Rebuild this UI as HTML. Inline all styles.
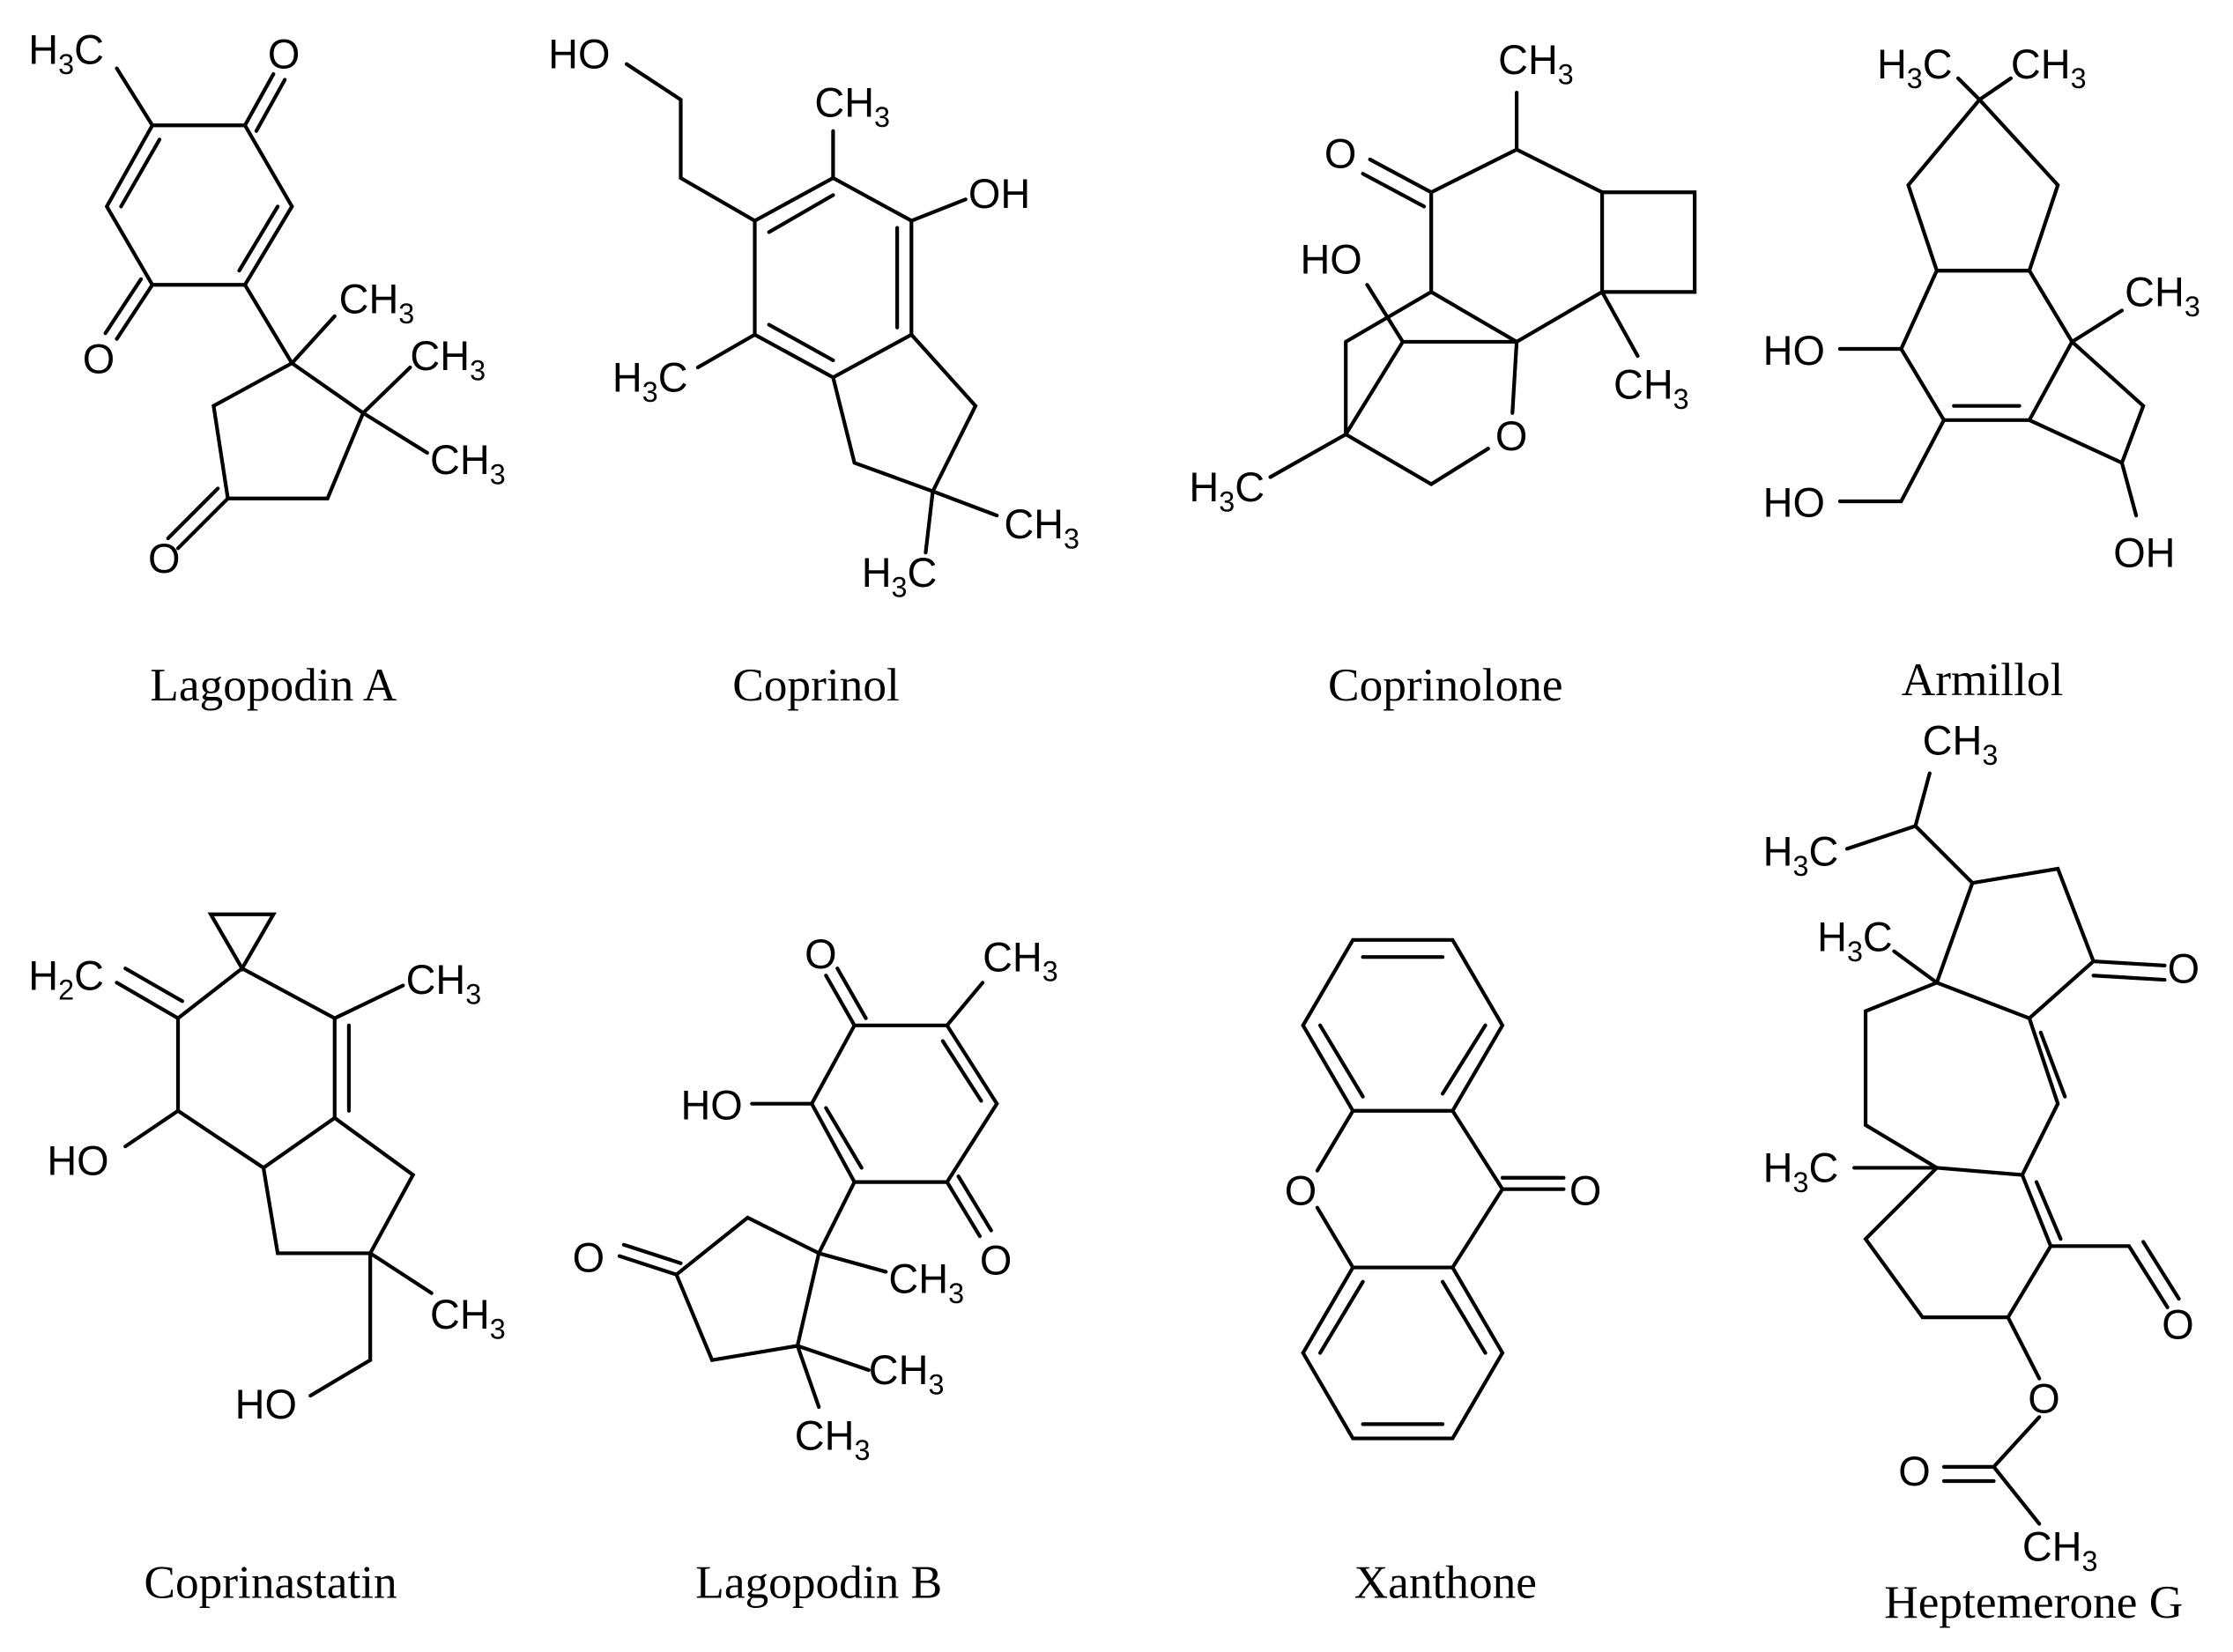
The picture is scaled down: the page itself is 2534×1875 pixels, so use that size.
<!DOCTYPE html>
<html><head><meta charset="utf-8"><style>html,body{margin:0;padding:0;background:#fff}svg{display:block}</style></head>
<body>
<svg width="2534" height="1875" viewBox="0 0 1568 1160" preserveAspectRatio="none" xmlns="http://www.w3.org/2000/svg">
<g stroke="#000" stroke-width="2.6" fill="none" stroke-linecap="round">
<!-- Lagopodin A -->
<path d="M107,88 L172,88 L205,145 L172,200 L107,200 L75,145 Z"/>
<path d="M85,145 L112,98 M195,145 L168,190"/>
<path d="M107,88 L82,48 M172,88 L192,52 M180,92 L200,56 M107,200 L82,238 M99,196 L74,234"/>
<path d="M172,200 L205,255 M205,255 L255,290 L230,350 L160,350 L150,285 Z"/>
<path d="M205,255 L235,222 M255,290 L288,258 M255,290 L300,318 M160,350 L125,385 M153,343 L118,378"/>
<!-- Coprinol -->
<path d="M530,155 L585,125 L640,155 L640,235 L585,265 L530,235 Z"/>
<path d="M540,163 L585,137 M630,160 L630,230 M540,228 L585,253"/>
<path d="M585,125 L585,92 M640,155 L678,140 M530,235 L490,258 M530,155 L478,125 L478,70 L440,45"/>
<path d="M640,235 L685,285 L655,345 L600,325 L585,265 M655,345 L700,362 M655,345 L650,388"/>
<!-- Coprinolone -->
<path d="M1005,135 L1065,105 L1125,135 L1125,205 L1065,240 L1005,205 Z"/>
<path d="M1125,135 L1190,135 L1190,205 L1125,205 M1065,105 L1065,65 M1125,205 L1150,250"/>
<path d="M1005,135 L962,112 M1000,145 L957,122"/>
<path d="M960,200 L985,240 M945,240 L1005,205 M945,240 L945,305 M945,305 L892,335 M945,305 L1005,340 L1045,315 M1065,240 L1062,290 M985,240 L1065,240 M985,240 L945,305"/>
<!-- Armillol -->
<path d="M1390,70 L1445,130 L1425,190 L1360,190 L1340,130 Z M1390,70 L1375,55 M1390,70 L1412,55"/>
<path d="M1360,190 L1425,190 L1455,240 L1425,295 L1365,295 L1335,245 Z M1372,285 L1418,285"/>
<path d="M1455,240 L1505,285 L1490,325 L1425,295 M1455,240 L1490,218 M1335,245 L1292,245 M1365,295 L1335,352 L1292,352 M1490,325 L1500,362"/>
<!-- Coprinastatin -->
<path d="M148,642 L192,642 L170,680 Z"/>
<path d="M125,715 L170,680 L235,715 L235,785 L185,820 L125,780 Z M245,720 L245,780"/>
<path d="M82,690 L125,715 M88,680 L128,703 M235,715 L283,692 M125,780 L88,805"/>
<path d="M185,820 L195,880 L260,880 L290,825 L235,785 M260,880 L303,908 M260,880 L260,955 L218,980"/>
<!-- Lagopodin B -->
<path d="M600,720 L665,720 L700,775 L665,830 L600,830 L570,775 Z M662,731 L689,773 M580,778 L605,820"/>
<path d="M600,720 L580,685 M608,715 L588,680 M665,720 L690,690 M570,775 L528,775 M665,830 L688,868 M673,826 L696,864"/>
<path d="M600,830 L575,880 M575,880 L560,945 L500,955 L475,895 L525,855 Z M475,895 L435,882 M478,887 L438,874 M575,880 L622,893 M560,945 L610,962 M560,945 L575,988"/>
<!-- Xanthone -->
<path d="M950,660 L1020,660 L1055,720 L1020,780 L950,780 L915,720 Z M957,672 L1013,672 M1043,720 L1013,768 M927,720 L957,770"/>
<path d="M950,780 L925,822 M1020,780 L1055,835 M1020,890 L1055,835 M950,890 L925,848 M1055,835 L1098,835 M1055,827 L1098,827"/>
<path d="M950,890 L1020,890 L1055,950 L1020,1010 L950,1010 L915,950 Z M957,1000 L1013,1000 M1043,950 L1013,900 M927,950 L957,900"/>
<!-- Heptemerone G -->
<path d="M1345,580 L1355,543 M1345,580 L1297,596 M1345,580 L1385,620 L1445,610 L1470,675 L1425,715 L1360,690 L1385,620"/>
<path d="M1470,675 L1520,678 M1470,685 L1520,688 M1360,690 L1330,668"/>
<path d="M1360,690 L1310,710 L1310,790 L1360,820 M1425,715 L1445,775 L1420,825 M1433,725 L1450,770"/>
<path d="M1360,820 L1420,825 L1440,875 L1410,925 L1350,925 L1310,870 L1360,820 M1430,830 L1447,870 M1360,820 L1302,820"/>
<path d="M1440,875 L1495,875 L1522,918 M1505,872 L1530,912 M1410,925 L1432,968 M1432,995 L1400,1030 L1432,1070 M1400,1030 L1365,1030 M1400,1040 L1365,1040"/>
</g>
<g font-family="Liberation Sans, sans-serif" font-size="29" fill="#000">
<text x="20" y="45">H<tspan font-size="20" dy="7">3</tspan><tspan dy="-7">C</tspan></text>
<text x="188" y="48">O</text><text x="58" y="262">O</text><text x="104" y="402">O</text>
<text x="238" y="220">CH<tspan font-size="20" dy="7">3</tspan></text>
<text x="288" y="260">CH<tspan font-size="20" dy="7">3</tspan></text>
<text x="302" y="333">CH<tspan font-size="20" dy="7">3</tspan></text>
<text x="385" y="48">HO</text>
<text x="572" y="82">CH<tspan font-size="20" dy="7">3</tspan></text>
<text x="680" y="146">OH</text>
<text x="430" y="275">H<tspan font-size="20" dy="7">3</tspan><tspan dy="-7">C</tspan></text>
<text x="705" y="378">CH<tspan font-size="20" dy="7">3</tspan></text>
<text x="605" y="412">H<tspan font-size="20" dy="7">3</tspan><tspan dy="-7">C</tspan></text>
<text x="1052" y="52">CH<tspan font-size="20" dy="7">3</tspan></text>
<text x="930" y="118">O</text><text x="913" y="192">HO</text>
<text x="1133" y="280">CH<tspan font-size="20" dy="7">3</tspan></text>
<text x="1050" y="316">O</text>
<text x="835" y="352">H<tspan font-size="20" dy="7">3</tspan><tspan dy="-7">C</tspan></text>
<text x="1318" y="55">H<tspan font-size="20" dy="7">3</tspan><tspan dy="-7">C</tspan></text>
<text x="1412" y="55">CH<tspan font-size="20" dy="7">3</tspan></text>
<text x="1492" y="215">CH<tspan font-size="20" dy="7">3</tspan></text>
<text x="1238" y="256">HO</text><text x="1238" y="363">HO</text><text x="1484" y="398">OH</text>
<text x="20" y="695">H<tspan font-size="20" dy="7">2</tspan><tspan dy="-7">C</tspan></text>
<text x="285" y="698">CH<tspan font-size="20" dy="7">3</tspan></text>
<text x="33" y="825">HO</text>
<text x="302" y="933">CH<tspan font-size="20" dy="7">3</tspan></text>
<text x="165" y="996">HO</text>
<text x="565" y="680">O</text>
<text x="690" y="682">CH<tspan font-size="20" dy="7">3</tspan></text>
<text x="478" y="786">HO</text><text x="688" y="895">O</text><text x="402" y="893">O</text>
<text x="624" y="908">CH<tspan font-size="20" dy="7">3</tspan></text>
<text x="610" y="972">CH<tspan font-size="20" dy="7">3</tspan></text>
<text x="558" y="1018">CH<tspan font-size="20" dy="7">3</tspan></text>
<text x="902" y="846">O</text><text x="1102" y="846">O</text>
<text x="1350" y="530">CH<tspan font-size="20" dy="7">3</tspan></text>
<text x="1238" y="608">H<tspan font-size="20" dy="7">3</tspan><tspan dy="-7">C</tspan></text>
<text x="1276" y="668">H<tspan font-size="20" dy="7">3</tspan><tspan dy="-7">C</tspan></text>
<text x="1522" y="690">O</text>
<text x="1238" y="830">H<tspan font-size="20" dy="7">3</tspan><tspan dy="-7">C</tspan></text>
<text x="1518" y="940">O</text><text x="1424" y="992">O</text><text x="1333" y="1043">O</text>
<text x="1420" y="1096">CH<tspan font-size="20" dy="7">3</tspan></text>
</g>
<g font-family="Liberation Serif, serif" font-size="33" fill="#000" text-anchor="middle">
<text x="192" y="492">Lagopodin A</text>
<text x="573" y="492">Coprinol</text>
<text x="1015" y="492">Coprinolone</text>
<text x="1392" y="488">Armillol</text>
<text x="190" y="1122">Coprinastatin</text>
<text x="575" y="1122">Lagopodin B</text>
<text x="1015" y="1122">Xanthone</text>
<text x="1428" y="1136">Heptemerone G</text>
</g>
</svg>
</body></html>
